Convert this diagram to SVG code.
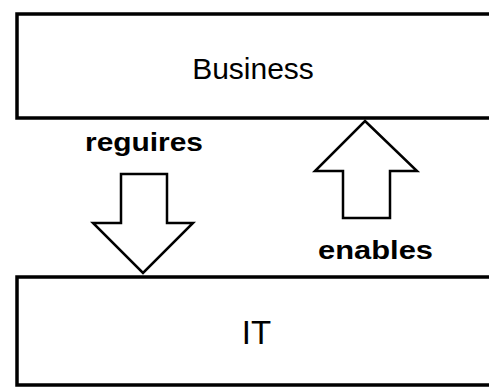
<svg xmlns="http://www.w3.org/2000/svg" width="489" height="388" viewBox="0 0 489 388">
  <style>
    .box { fill: #ffffff; stroke: #000000; stroke-width: 3.5; }
    .arrow { fill: #ffffff; stroke: #000000; stroke-width: 2.5; stroke-linejoin: miter; }
    .title { font-family: "Liberation Sans", Arial, sans-serif; fill: #000000; text-anchor: middle; }
    .label { font-family: "Liberation Sans", Arial, sans-serif; font-weight: bold; font-size: 26px; fill: #000000; }
  </style>
  <rect width="489" height="388" fill="#ffffff"/>

  <g id="business">
    <rect class="box" x="17" y="14" width="500" height="104"/>
    <text class="title" x="253" y="79" font-size="30">Business</text>
  </g>

  <g id="it">
    <rect class="box" x="17" y="277" width="500" height="108"/>
    <text class="title" x="256.5" y="344" font-size="33">IT</text>
  </g>

  <g id="connectors">
    <g id="requires">
      <polygon class="arrow" points="121,174 167,174 167,223 193,223 143,273 93,223 121,223"/>
      <text class="label" x="85" y="151" textLength="118" lengthAdjust="spacingAndGlyphs">reguires</text>
    </g>
    <g id="enables">
      <polygon class="arrow" points="365,121 417,171 390,171 390,218 343,218 343,171 315,171"/>
      <text class="label" x="318" y="259" textLength="115" lengthAdjust="spacingAndGlyphs">enables</text>
    </g>
  </g>
</svg>
